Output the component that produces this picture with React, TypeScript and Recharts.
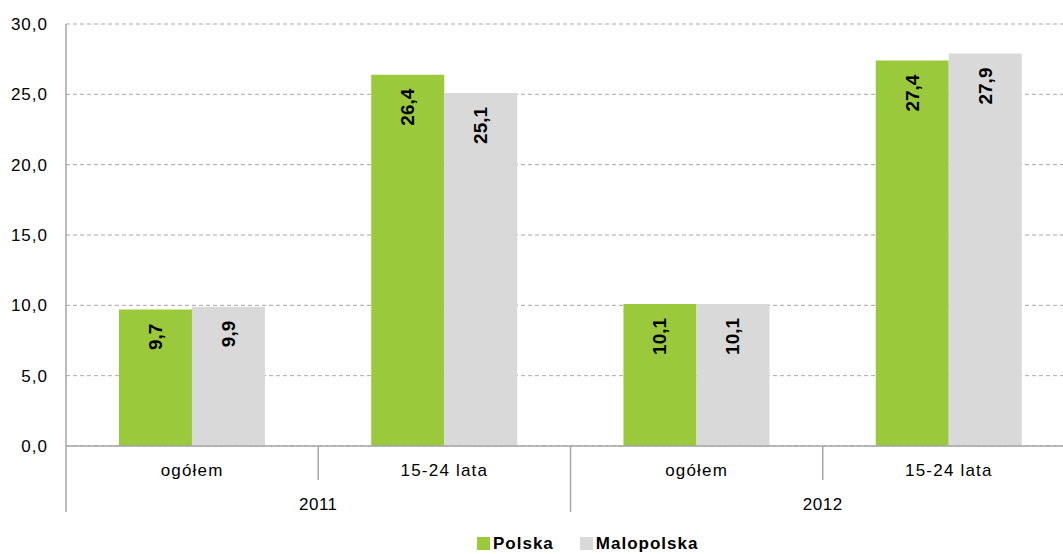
import React from "react";
import { BarChart, Bar, XAxis, YAxis, CartesianGrid, LabelList } from "recharts";

const categories = ["ogółem", "15-24 lata", "ogółem", "15-24 lata"];
const years = ["2011", "2011", "2012", "2012"];
const polska = [9.7, 26.4, 10.1, 27.4];
const malopolska = [9.9, 25.1, 10.1, 27.9];
const yTicks = [0, 5, 10, 15, 20, 25, 30];

const GREEN = "#9bc93c";
const GRAY = "#d9d9d9";
const AXIS = "#a6a6a6";
const FONT = "'Liberation Sans', Arial, sans-serif";

const data = categories.map((c, i) => ({
  key: `${years[i]}-${i}`,
  cat: c,
  year: years[i],
  polska: polska[i],
  malopolska: malopolska[i],
}));

const fmt = (v: number) => v.toFixed(1).replace(".", ",");

function CatTick(props: any) {
  const { x, y, payload, index } = props;
  const half = payload?.offset || 126;
  const left = x - half;
  const firstOfYear = index === 0 || years[index] !== years[index - 1];
  const lastOfYear = index === years.length - 1 || years[index] !== years[index + 1];
  return (
    <g>
      <line
        x1={left}
        x2={left}
        y1={y}
        y2={firstOfYear ? y + 66 : y + 34}
        stroke={AXIS}
        strokeWidth={1.5}
      />
      {index === years.length - 1 && (
        <line x1={x + half} x2={x + half} y1={y} y2={y + 66} stroke={AXIS} strokeWidth={1.5} />
      )}
      <text
        x={x}
        y={y + 30}
        textAnchor="middle"
        fontSize={17}
        letterSpacing={1.2}
        fontFamily={FONT}
        fill="#000"
      >
        {categories[index]}
      </text>
      {firstOfYear && !lastOfYear && (
        <text
          x={x + half}
          y={y + 64}
          textAnchor="middle"
          fontSize={17}
          letterSpacing={0.5}
          fontFamily={FONT}
          fill="#000"
        >
          {years[index]}
        </text>
      )}
    </g>
  );
}

function BarLabel(props: any) {
  const { x, y, width, value } = props;
  const cx = x + width / 2;
  const ty = y + 14;
  return (
    <text
      x={cx}
      y={ty}
      transform={`rotate(-90 ${cx} ${ty})`}
      textAnchor="end"
      dominantBaseline="central"
      fontSize={19}
      fontWeight="bold"
      fontFamily={FONT}
      fill="#000"
    >
      {fmt(value)}
    </text>
  );
}

export default function App() {
  return (
    <div
      style={{
        position: "absolute",
        left: 0,
        top: 0,
        width: 1063,
        height: 554,
        overflow: "hidden",
        background: "#fff",
        fontFamily: FONT,
      }}
    >
      <BarChart
        width={1090}
        height={554}
        data={data}
        margin={{ top: 24, right: 15, left: 0, bottom: 38 }}
        barCategoryGap="21%"
        barGap={0}
      >
        <CartesianGrid vertical={false} stroke={AXIS} strokeDasharray="4 3" />
        <YAxis
          width={66}
          domain={[0, 30]}
          ticks={yTicks}
          tickFormatter={fmt}
          tickLine={false}
          axisLine={{ stroke: AXIS, strokeWidth: 1.5 }}
          tick={{ fill: "#000", fontSize: 17, fontFamily: FONT, letterSpacing: 1 }}
          tickMargin={12}
        />
        <XAxis
          dataKey="key"
          height={70}
          tickLine={false}
          tickSize={0}
          tickMargin={0}
          interval={0}
          axisLine={{ stroke: AXIS, strokeWidth: 1.5 }}
          tick={<CatTick />}
        />
        <Bar dataKey="polska" name="Polska" fill={GREEN} isAnimationActive={false}>
          <LabelList dataKey="polska" content={<BarLabel />} />
        </Bar>
        <Bar dataKey="malopolska" name="Malopolska" fill={GRAY} isAnimationActive={false}>
          <LabelList dataKey="malopolska" content={<BarLabel />} />
        </Bar>
      </BarChart>
      <div
        style={{
          position: "absolute",
          top: 534,
          left: 477,
          display: "flex",
          gap: 26,
          fontSize: 17,
          fontWeight: "bold",
          letterSpacing: 1,
          color: "#000",
          lineHeight: "19px",
        }}
      >
        {[
          { name: "Polska", color: GREEN },
          { name: "Malopolska", color: GRAY },
        ].map((s) => (
          <div key={s.name} style={{ display: "flex", alignItems: "center" }}>
            <span
              style={{
                width: 13,
                height: 13,
                background: s.color,
                display: "inline-block",
                marginRight: 3,
              }}
            />
            {s.name}
          </div>
        ))}
      </div>
    </div>
  );
}
